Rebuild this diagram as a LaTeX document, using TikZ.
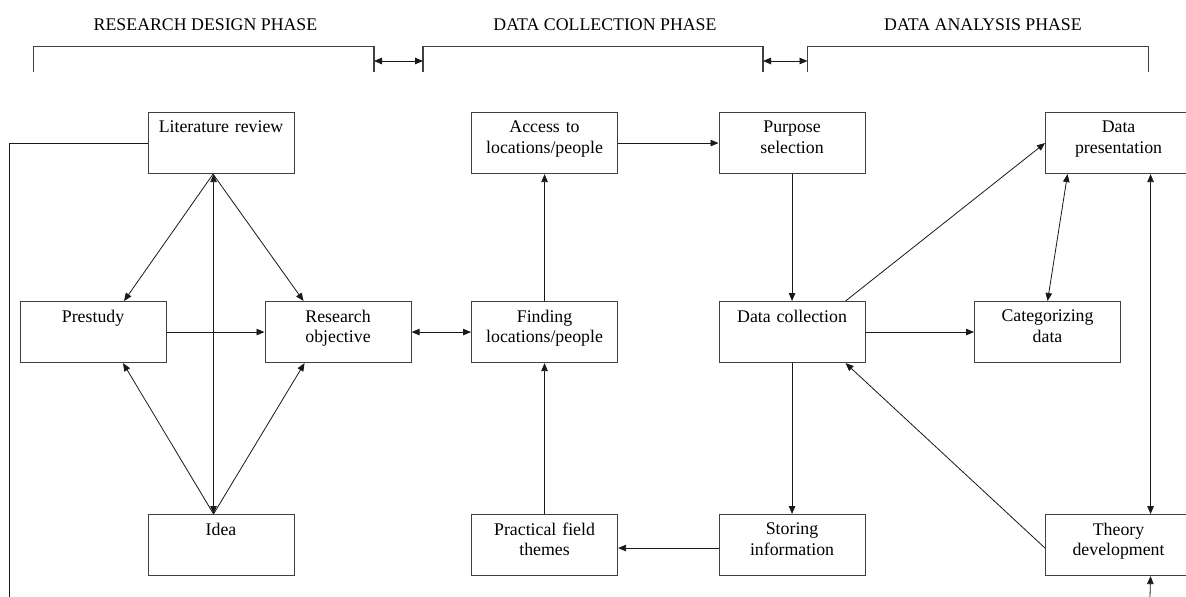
\documentclass[tikz,border=0pt]{standalone}
\usepackage{fontspec}
\setmainfont{Liberation Serif}
\usetikzlibrary{arrows.meta,calc}
\newcommand\boxfont{\fontsize{17.8}{20.7}\selectfont}
\begin{document}
\begin{tikzpicture}[x=1pt,y=-1pt,
  box/.style={draw=black!75, line width=1.1pt, minimum width=146pt, minimum height=61pt, inner sep=0pt, anchor=north west},
  txt/.style={anchor=north, align=center, text width=140pt, inner sep=0pt, font=\boxfont},
  phase/.style={anchor=base, inner sep=0pt, font=\boxfont},
  con/.style={line width=0.8pt, black!90},
  arr/.style={con, -{Triangle[length=8pt,width=6.5pt]}},
  darr/.style={con, {Triangle[length=8pt,width=6.5pt]}-{Triangle[length=8pt,width=6.5pt]}},
  brk/.style={line width=1.1pt, black!75}]
\useasboundingbox (0,0) rectangle (1186,597);
\clip (0,0) rectangle (1186,597);
\fill[white] (0,0) rectangle (1186,597);

% phase titles
\node[phase] (ph1) at (205.5,30) {RESEARCH DESIGN PHASE};
\node[phase] (ph2) at (605,30) {DATA COLLECTION PHASE};
\node[phase] (ph3) at (983,30) {DATA ANALYSIS PHASE};

% brackets
\coordinate (b1l) at (33.5,72); \coordinate (b1r) at (374,72);
\coordinate (b2l) at (423,72); \coordinate (b2r) at (763,72);
\coordinate (b3l) at (807.5,72); \coordinate (b3r) at (1148.5,72);
\draw[brk] (b1l) -- ++(0,-25.5) -| (b1r);
\draw[brk] (b2l) -- ++(0,-25.5) -| (b2r);
\draw[brk] (b3l) -- ++(0,-25.5) -| (b3r);
\draw[darr] ([yshift=11pt]b1r) -- ([yshift=11pt]b2l);
\draw[darr] ([yshift=11pt]b2r) -- ([yshift=11pt]b3l);

% boxes
\node[box] (lit) at (147.5,112) {};
\node[box] (pre) at (19.5,301) {};
\node[box] (ro)  at (264.5,301) {};
\node[box] (idea) at (147.5,514) {};
\node[box] (acc) at (471,112) {};
\node[box] (fin) at (471,301) {};
\node[box] (pr)  at (471,514) {};
\node[box] (pur) at (718.5,112) {};
\node[box] (dc)  at (718.5,301) {};
\node[box] (st)  at (718.5,514) {};
\node[box] (cat) at (974,301) {};
\node[box] (dp)  at (1045,112) {};
\node[box] (th)  at (1045,514) {};

% texts
\node[txt] (lit-t) at ([yshift=-8.5pt]lit.north) {Literature review};
\node[txt] (pre-t) at ([yshift=-8.5pt]pre.north) {Prestudy};
\node[txt] (ro-t) at ([yshift=-8.5pt]ro.north) {Research\\objective};
\node[txt] (idea-t) at ([yshift=-8.5pt]idea.north) {Idea};
\node[txt] (acc-t) at ([yshift=-8.5pt]acc.north) {Access to\\locations/people};
\node[txt] (fin-t) at ([yshift=-8.5pt]fin.north) {Finding\\locations/people};
\node[txt] (pr-t) at ([yshift=-8.5pt]pr.north) {Practical field\\themes};
\node[txt] (pur-t) at ([yshift=-8.5pt]pur.north) {Purpose\\selection};
\node[txt] (dc-t) at ([yshift=-8.5pt]dc.north) {Data collection};
\node[txt] (st-t) at ([yshift=-8.5pt]st.north) {Storing\\information};
\node[txt] (cat-t) at ([yshift=-8.5pt]cat.north) {Categorizing\\data};
\node[txt] (dp-t) at ([yshift=-8.5pt]dp.north) {Data\\presentation};
\node[txt] (th-t) at ([yshift=-8.5pt]th.north) {Theory\\development};

% research design connectors
\draw[arr] ([xshift=-8pt]lit.south) -- ([xshift=31pt]pre.north);
\draw[arr] ([xshift=-8pt]lit.south) -- ([xshift=-34.5pt]ro.north);
\draw[darr] ([xshift=-7.5pt]lit.south) -- ([xshift=-7.5pt]idea.north);
\draw[arr] ([xshift=-7.5pt]idea.north) -- ([xshift=30pt]pre.south);
\draw[arr] ([xshift=-7.5pt]idea.north) -- ([xshift=-33.5pt]ro.south);
\draw[arr] (pre.east) -- (ro.west);
\draw[darr] (ro.east) -- (fin.west);

% feedback line on the left
\coordinate (fbend) at (9,597);
\draw[con] (lit.west) -| (fbend);

% data collection connectors
\draw[arr] (fin.north) -- (acc.south);
\draw[arr] (acc.east) -- (pur.west);
\draw[arr] (pur.south) -- (dc.north);
\draw[arr] (dc.south) -- (st.north);
\draw[arr] ([yshift=-3pt]st.west) -- ([yshift=-3pt]pr.east);
\draw[arr] (pr.north) -- (fin.south);

% data analysis connectors
\draw[arr] ([xshift=53.5pt]dc.north) -- (dp.west);
\draw[arr] (dc.east) -- (cat.west);
\draw[darr] (cat.north) -- ([xshift=-51pt]dp.south);
\draw[darr] ([xshift=32pt]dp.south) -- ([xshift=32pt]th.north);
\draw[arr] ([yshift=-3pt]th.west) -- ([xshift=53.5pt]dc.south);
\coordinate (thin) at (1150,597);
\draw[arr] (thin) -- ([xshift=32pt]th.south);
\end{tikzpicture}
\end{document}
